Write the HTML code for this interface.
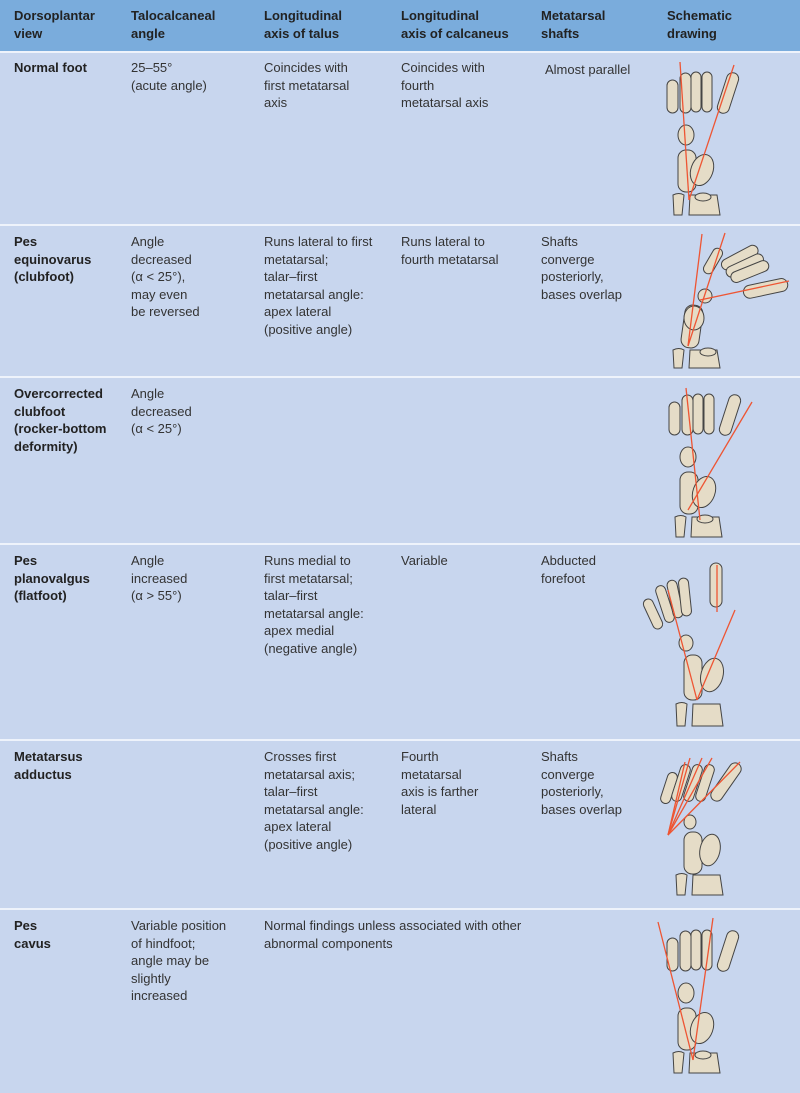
<!DOCTYPE html>
<html><head><meta charset="utf-8"><style>
body{margin:0;width:800px;height:1093px;background:#c8d6ee;position:relative;overflow:hidden;font-family:"Liberation Sans",sans-serif;font-size:13px;line-height:17.5px;color:#333}
.h{position:absolute;left:0;top:0;width:800px;height:51px;background:#7aacdc}
.sep{position:absolute;left:0;width:800px;height:2px;background:#eef3fb}
.t{position:absolute}
.b{font-weight:bold;color:#222}
svg{position:absolute;left:0;top:0}
</style></head><body>
<div class="h"></div>
<div class="sep" style="top:51px"></div>
<div class="sep" style="top:224px"></div>
<div class="sep" style="top:376px"></div>
<div class="sep" style="top:543px"></div>
<div class="sep" style="top:739px"></div>
<div class="sep" style="top:908px"></div>

<div class="t b" style="left:14px;top:7px">Dorsoplantar<br>view</div>
<div class="t b" style="left:131px;top:7px">Talocalcaneal<br>angle</div>
<div class="t b" style="left:264px;top:7px">Longitudinal<br>axis of talus</div>
<div class="t b" style="left:401px;top:7px">Longitudinal<br>axis of calcaneus</div>
<div class="t b" style="left:541px;top:7px">Metatarsal<br>shafts</div>
<div class="t b" style="left:667px;top:7px">Schematic<br>drawing</div>

<div class="t b" style="left:14px;top:59px">Normal foot</div>
<div class="t" style="left:131px;top:59px">25–55°<br>(acute angle)</div>
<div class="t" style="left:264px;top:59px">Coincides with<br>first metatarsal<br>axis</div>
<div class="t" style="left:401px;top:59px">Coincides with<br>fourth<br>metatarsal axis</div>
<div class="t" style="left:545px;top:61px">Almost parallel</div>

<div class="t b" style="left:14px;top:233px">Pes<br>equinovarus<br>(clubfoot)</div>
<div class="t" style="left:131px;top:233px">Angle<br>decreased<br>(α &lt; 25°),<br>may even<br>be reversed</div>
<div class="t" style="left:264px;top:233px">Runs lateral to first<br>metatarsal;<br>talar–first<br>metatarsal angle:<br>apex lateral<br>(positive angle)</div>
<div class="t" style="left:401px;top:233px">Runs lateral to<br>fourth metatarsal</div>
<div class="t" style="left:541px;top:233px">Shafts<br>converge<br>posteriorly,<br>bases overlap</div>

<div class="t b" style="left:14px;top:385px">Overcorrected<br>clubfoot<br>(rocker-bottom<br>deformity)</div>
<div class="t" style="left:131px;top:385px">Angle<br>decreased<br>(α &lt; 25°)</div>

<div class="t b" style="left:14px;top:552px">Pes<br>planovalgus<br>(flatfoot)</div>
<div class="t" style="left:131px;top:552px">Angle<br>increased<br>(α &gt; 55°)</div>
<div class="t" style="left:264px;top:552px">Runs medial to<br>first metatarsal;<br>talar–first<br>metatarsal angle:<br>apex medial<br>(negative angle)</div>
<div class="t" style="left:401px;top:552px">Variable</div>
<div class="t" style="left:541px;top:552px">Abducted<br>forefoot</div>

<div class="t b" style="left:14px;top:748px">Metatarsus<br>adductus</div>
<div class="t" style="left:264px;top:748px">Crosses first<br>metatarsal axis;<br>talar–first<br>metatarsal angle:<br>apex lateral<br>(positive angle)</div>
<div class="t" style="left:401px;top:748px">Fourth<br>metatarsal<br>axis is farther<br>lateral</div>
<div class="t" style="left:541px;top:748px">Shafts<br>converge<br>posteriorly,<br>bases overlap</div>

<div class="t b" style="left:14px;top:917px">Pes<br>cavus</div>
<div class="t" style="left:131px;top:917px">Variable position<br>of hindfoot;<br>angle may be<br>slightly<br>increased</div>
<div class="t" style="left:264px;top:917px">Normal findings unless associated with other<br>abnormal components</div>

<svg width="800" height="1093" viewBox="0 0 800 1093">
<defs>
<g id="foot" fill="#e5dcc7" stroke="#444" stroke-width="1">
<rect x="667" y="80" width="11" height="33" rx="5.5"/>
<rect x="680" y="73" width="11" height="40" rx="5.5"/>
<rect x="691" y="72" width="10" height="40" rx="5"/>
<rect x="702" y="72" width="10" height="40" rx="5"/>
<rect x="722" y="72" width="12" height="42" rx="6" transform="rotate(18 728 93)"/>
<ellipse cx="686" cy="135" rx="8" ry="10"/>
<rect x="678" y="150" width="18" height="42" rx="8"/>
<ellipse cx="702" cy="170" rx="11" ry="16" transform="rotate(20 702 170)"/>
<path d="M673 195 q6-3 11 0 l-2 20 h-8 z"/>
<path d="M690 195 h27 l3 20 h-31 z"/>
<ellipse cx="703" cy="197" rx="8" ry="4"/>
</g>
</defs>
<g>
<use href="#foot"/>
<g stroke="#ee5533" stroke-width="1.3"><line x1="680" y1="62" x2="689" y2="200"/><line x1="734" y1="65" x2="689" y2="200"/></g>
</g>
<!-- clubfoot -->
<g fill="#e5dcc7" stroke="#444" stroke-width="1">
<rect x="708" y="247" width="10" height="28" rx="5" transform="rotate(30 713 261)"/>
<rect x="720" y="252" width="40" height="11" rx="5.5" transform="rotate(-28 740 258)"/>
<rect x="725" y="260" width="40" height="11" rx="5.5" transform="rotate(-25 745 266)"/>
<rect x="730" y="266" width="40" height="11" rx="5.5" transform="rotate(-22 750 272)"/>
<rect x="743" y="282" width="45" height="13" rx="6.5" transform="rotate(-12 765 288)"/>
<ellipse cx="705" cy="296" rx="7" ry="7"/>
<rect x="683" y="305" width="18" height="43" rx="8" transform="rotate(8 692 326)"/>
<ellipse cx="694" cy="318" rx="10" ry="12"/>
<path d="M673 350 q6-3 11 0 l-2 18 h-8 z"/>
<path d="M690 350 h27 l3 18 h-31 z"/>
<ellipse cx="708" cy="352" rx="8" ry="4"/>
</g>
<g stroke="#ee5533" stroke-width="1.3"><line x1="702" y1="234" x2="688" y2="346"/><line x1="725" y1="233" x2="688" y2="346"/><line x1="700" y1="300" x2="789" y2="281"/></g>
<!-- overcorrected -->
<g transform="translate(2,322)"><use href="#foot"/></g>
<g stroke="#ee5533" stroke-width="1.3"><line x1="686" y1="388" x2="700" y2="520"/><line x1="752" y1="402" x2="688" y2="510"/></g>
<!-- planovalgus -->
<g fill="#e5dcc7" stroke="#444" stroke-width="1">
<rect x="648" y="598" width="10" height="32" rx="5" transform="rotate(-25 653 614)"/>
<rect x="660" y="585" width="10" height="38" rx="5" transform="rotate(-18 665 604)"/>
<rect x="670" y="580" width="10" height="38" rx="5" transform="rotate(-12 675 599)"/>
<rect x="680" y="578" width="10" height="38" rx="5" transform="rotate(-6 685 597)"/>
<rect x="710" y="563" width="12" height="44" rx="6"/>
<ellipse cx="686" cy="643" rx="7" ry="8"/>
<rect x="684" y="655" width="18" height="45" rx="8"/>
<ellipse cx="712" cy="675" rx="11" ry="17" transform="rotate(15 712 675)"/>
<path d="M676 704 q6-3 11 0 l-2 22 h-8 z"/>
<path d="M693 704 h27 l3 22 h-31 z"/>
</g>
<g stroke="#ee5533" stroke-width="1.3"><line x1="717" y1="565" x2="717" y2="612"/><line x1="668" y1="590" x2="697" y2="700"/><line x1="735" y1="610" x2="697" y2="700"/></g>
<!-- metatarsus adductus -->
<g fill="#e5dcc7" stroke="#444" stroke-width="1">
<rect x="664" y="772" width="10" height="32" rx="5" transform="rotate(18 669 788)"/>
<rect x="676" y="764" width="10" height="38" rx="5" transform="rotate(18 681 783)"/>
<rect x="688" y="764" width="10" height="38" rx="5" transform="rotate(18 693 783)"/>
<rect x="700" y="764" width="10" height="38" rx="5" transform="rotate(18 705 783)"/>
<rect x="720" y="760" width="12" height="44" rx="6" transform="rotate(35 726 782)"/>
<ellipse cx="690" cy="822" rx="6" ry="7"/>
<rect x="684" y="832" width="18" height="42" rx="8"/>
<ellipse cx="710" cy="850" rx="10" ry="16" transform="rotate(12 710 850)"/>
<path d="M676 875 q6-3 11 0 l-2 20 h-8 z"/>
<path d="M693 875 h27 l3 20 h-31 z"/>
</g>
<g stroke="#ee5533" stroke-width="1.3"><line x1="690" y1="758" x2="668" y2="835"/><line x1="702" y1="758" x2="668" y2="835"/><line x1="712" y1="758" x2="668" y2="835"/><line x1="740" y1="762" x2="668" y2="835"/><line x1="685" y1="762" x2="668" y2="835"/></g>
<!-- cavus -->
<g transform="translate(0,858)"><use href="#foot"/></g>
<g stroke="#ee5533" stroke-width="1.3"><line x1="658" y1="922" x2="693" y2="1060"/><line x1="713" y1="918" x2="693" y2="1060"/></g>
</svg>
</body></html>
